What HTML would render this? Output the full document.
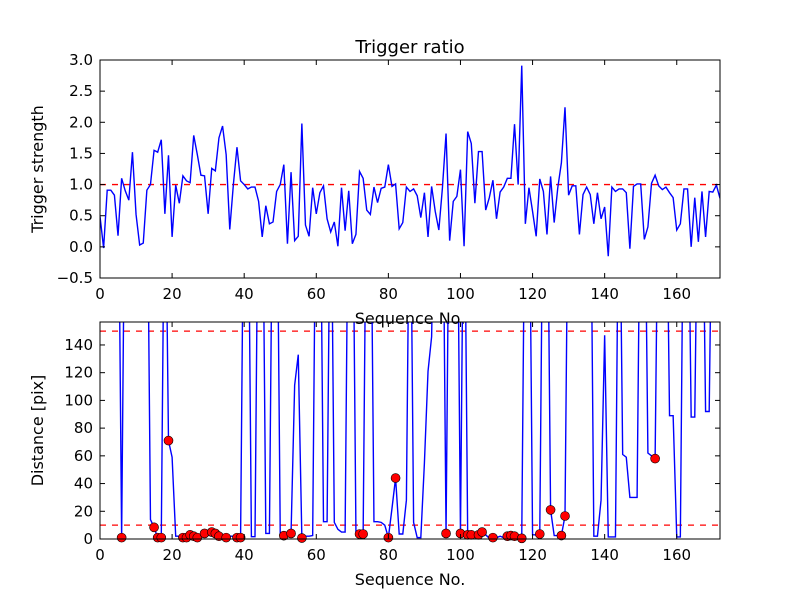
<!DOCTYPE html>
<html><head><meta charset="utf-8">
<style>
html,body{margin:0;padding:0;background:#fff;}
svg{display:block;font-family:"DejaVu Sans","Liberation Sans",sans-serif;}
</style></head>
<body>
<svg id="chart" width="800" height="600" viewBox="0 0 800 600" xmlns="http://www.w3.org/2000/svg">
<rect width="800" height="600" fill="#fff"/>
<defs>
<clipPath id="clipTop"><rect x="100" y="60" width="620" height="218"/></clipPath>
<clipPath id="clipBot"><rect x="100" y="322" width="620" height="217"/></clipPath>
</defs>
<g id="gTop"></g>
<g id="gBot"></g>
</svg>
<script>
const ratio = [0.49,-0.02,0.91,0.91,0.83,0.18,1.1,0.9,0.75,1.52,0.52,0.03,0.06,0.91,1.0,1.55,1.52,1.72,0.53,1.47,0.16,0.99,0.7,1.14,1.06,1.03,1.79,1.48,1.15,1.14,0.53,1.26,1.22,1.75,1.94,1.48,0.28,1.0,1.6,1.06,1.0,0.93,0.96,0.96,0.73,0.16,0.66,0.37,0.4,0.89,1.0,1.32,0.05,1.2,0.1,0.17,1.98,0.35,0.17,0.95,0.53,0.87,0.98,0.45,0.24,0.4,0.01,0.95,0.26,0.9,0.05,0.2,1.21,1.1,0.59,0.52,0.96,0.71,0.94,0.96,1.32,0.97,1.01,0.29,0.39,0.96,0.89,0.93,0.82,0.47,0.87,0.16,0.97,0.57,0.27,0.95,1.82,0.1,0.73,0.81,1.24,0.01,1.85,1.66,0.7,1.53,1.53,0.59,0.79,1.07,0.45,0.88,0.96,1.1,1.1,1.97,1.0,2.91,0.37,0.95,0.57,0.17,1.09,0.89,0.2,1.13,0.39,0.95,1.35,2.24,0.83,0.98,0.98,0.2,0.84,0.96,0.84,0.37,0.87,0.45,0.64,-0.15,0.96,0.89,0.93,0.93,0.87,-0.03,0.97,1.01,1.01,0.12,0.32,1.02,1.15,0.98,0.92,0.96,0.87,0.79,0.27,0.37,0.93,0.93,0.0,0.79,0.08,0.89,0.16,0.89,0.88,0.99,0.78];
const H = 300;
const dist = [H,H,H,H,H,H,1,H,H,H,H,H,H,H,14,8.4,1,1,H,71,
59,2,2,1,1,3,2,1,1,4,3,5,4,2,1,1,2,2,1,1,
H,H,1.7,1.7,H,H,4,4,H,H,4,2.4,3,4,111,133,0.7,2,2,2.5,
H,H,12.5,12.5,H,12,7,5,5,H,H,5,3.6,3.6,H,H,12.5,12.5,12,10,
1,22,44,3.6,3.6,28,H,12,1,1,55,121,146,H,H,H,4,H,H,H,
4,H,3,3,2,3,5,3,0.5,1,1,2,1,2,2.5,2,1,0.5,H,H,
3,3,3.6,H,H,21,2.5,2.5,2.5,16.6,H,H,H,H,H,H,H,2,2,28,
147,1.5,1.5,1.5,H,61,59,30,30,30,H,H,62,60,58,H,H,H,89,89,
1.5,1.5,H,H,88,88,H,H,92,92,H,H,H];
const markerIdx = [6,15,16,17,19,23,24,25,26,27,29,31,32,33,35,38,39,51,53,56,72,73,80,82,96,100,102,103,105,106,109,113,114,115,117,122,125,128,129,154];
const xTicks = [0,20,40,60,80,100,120,140,160];
const topYTicks = [-0.5,0.0,0.5,1.0,1.5,2.0,2.5,3.0];
const botYTicks = [0,20,40,60,80,100,120,140];
const ratioRef = [1.0];
const distRef = [10,150];

const NS="http://www.w3.org/2000/svg";
function mk(tag,attrs,parent){const e=document.createElementNS(NS,tag);for(const k in attrs)e.setAttribute(k,attrs[k]);parent.appendChild(e);return e;}
const X0=100,X1=720,XMAX=172;
const sx=v=>X0+v/XMAX*(X1-X0);
const tyTop=v=>278-(v+0.5)/3.5*218;
const tyBot=v=>539-v*1.386;

function axes(g,y0,y1,sy,yT,fmt,ylabel){
  xTicks.forEach(t=>{
    const x=sx(t);
    const a=mk('line',{x1:x,x2:x,y1:y1,y2:y1-5,stroke:'#000','stroke-width':1},g);
    
    mk('line',{x1:x,x2:x,y1:y0,y2:y0+5,stroke:'#000','stroke-width':1},g);
    const tx=mk('text',{x:x,y:y1+21,'font-size':15,'text-anchor':'middle'},g);
    
    tx.textContent=t;
  });
  yT.forEach(t=>{
    const y=sy(t);
    const a=mk('line',{x1:X0,x2:X0+5,y1:y,y2:y,stroke:'#000','stroke-width':1},g);
    
    mk('line',{x1:X1,x2:X1-5,y1:y,y2:y,stroke:'#000','stroke-width':1},g);
    const tx=mk('text',{x:X0-7,y:y+5,'font-size':15,'text-anchor':'end'},g);
    
    tx.textContent=fmt(t);
  });
  const fr=mk('rect',{x:X0,y:y0,width:X1-X0,height:y1-y0,fill:'none',stroke:'#000','stroke-width':1},g);
  
  const yl=mk('text',{x:0,y:0,'font-size':16,'text-anchor':'middle',transform:`translate(${X0-57},${(y0+y1)/2}) rotate(-90)`},g);
  
  yl.textContent=ylabel;
  const xl=mk('text',{x:(X0+X1)/2,y:y1+46,'font-size':16,'text-anchor':'middle'},g);
  
  xl.textContent='Sequence No.';
}

const gT=document.getElementById('gTop');
const cT=mk('g',{'clip-path':'url(#clipTop)'},gT);
ratioRef.forEach(r=>{
  const l=mk('line',{x1:X0,x2:X1,y1:tyTop(r),y2:tyTop(r),stroke:'#ff0000','stroke-width':1.3,'stroke-dasharray':'6,6'},cT);
  
});
const pT=mk('polyline',{points:ratio.map((v,i)=>sx(i)+','+tyTop(v)).join(' '),fill:'none',stroke:'#0000ff','stroke-width':1.4},cT);

axes(gT,60,278,tyTop,topYTicks,v=>v.toFixed(1).replace('-','\u2212'),'Trigger strength');
const title=mk('text',{x:410,y:53,'font-size':18,'text-anchor':'middle'},gT);

title.textContent='Trigger ratio';

const gB=document.getElementById('gBot');
const cB=mk('g',{'clip-path':'url(#clipBot)'},gB);
distRef.forEach(r=>{
  const l=mk('line',{x1:X0,x2:X1,y1:tyBot(r),y2:tyBot(r),stroke:'#ff0000','stroke-width':1.3,'stroke-dasharray':'6,6'},cB);
  
});
const pB=mk('polyline',{points:dist.map((v,i)=>sx(i)+','+tyBot(v)).join(' '),fill:'none',stroke:'#0000ff','stroke-width':1.4},cB);

const gM=mk('g',{},gB);
markerIdx.forEach(i=>{
  const c=mk('circle',{cx:sx(i),cy:tyBot(dist[i]),r:4.5,fill:'#ff0000',stroke:'#000','stroke-width':0.6},gM);
  
  
});
axes(gB,322,539,tyBot,botYTicks,v=>String(v),'Distance [pix]');
</script>
</body></html>
